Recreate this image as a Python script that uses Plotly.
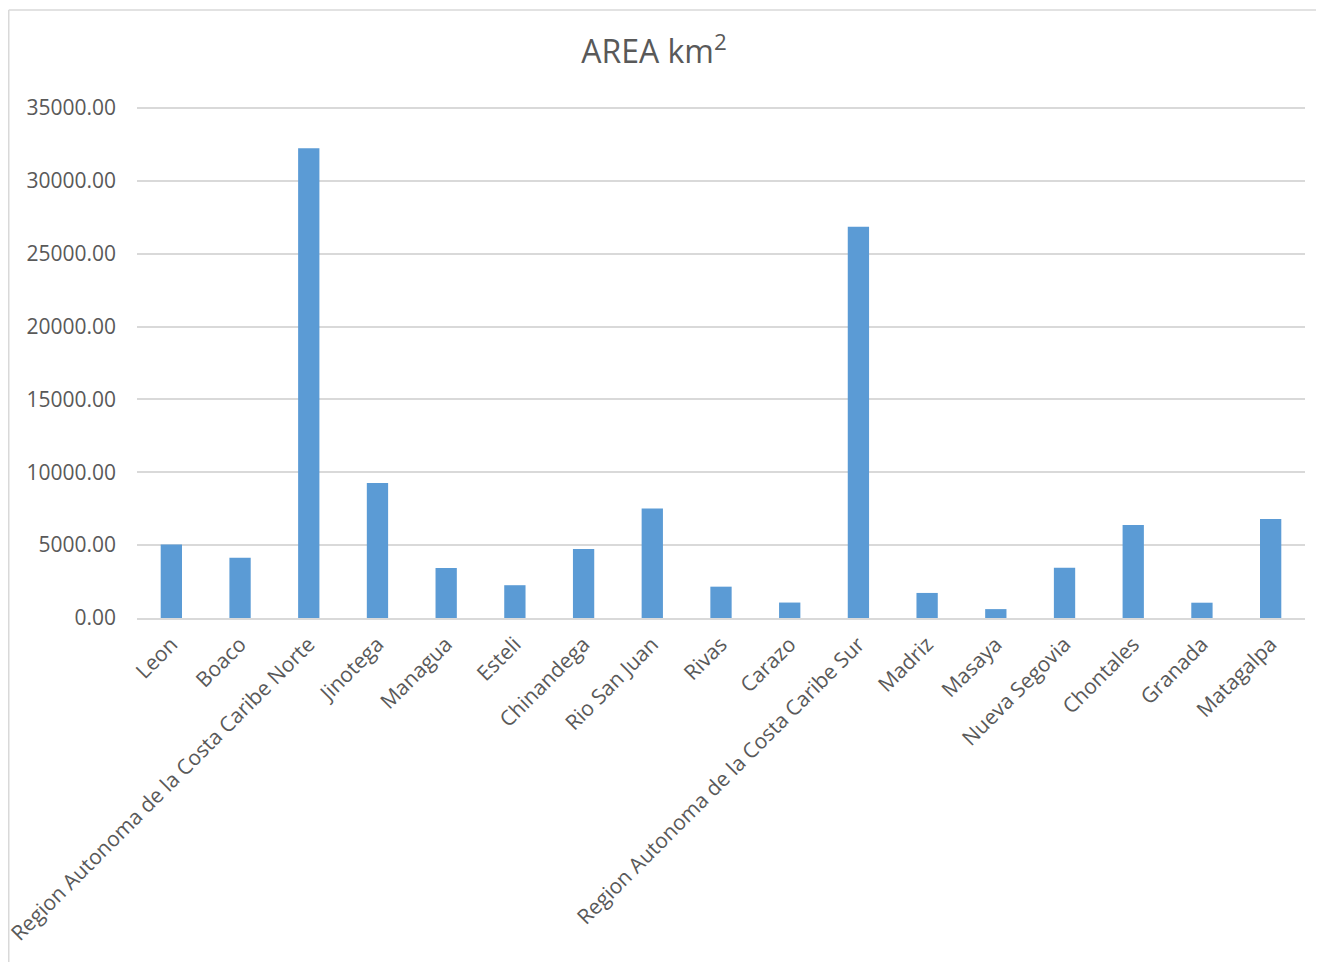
import plotly.graph_objects as go

categories = ["Leon", "Boaco", "Region Autonoma de la Costa Caribe Norte", "Jinotega",
              "Managua", "Esteli", "Chinandega", "Rio San Juan", "Rivas", "Carazo",
              "Region Autonoma de la Costa Caribe Sur", "Madriz", "Masaya",
              "Nueva Segovia", "Chontales", "Granada", "Matagalpa"]
area_km2 = [5040, 4130, 32230, 9270, 3430, 2250, 4730, 7520, 2150, 1060,
            26850, 1720, 610, 3440, 6380, 1050, 6800]
y_ticks = [0, 5000, 10000, 15000, 20000, 25000, 30000, 35000]

W, H = 1324, 962
OFF = 8  # page offset of the figure in the browser
# plot-area edges in screen pixels
L, R, T, B = 137 - OFF, 1305 - OFF, 103 - OFF, 618 - OFF
YMAX = 35000 * (B - T) / (B - (108 - OFF))

def px(x):
    return (x - L) / (R - L)

def py(y):
    return (B - y) / (B - T)

fig = go.Figure(go.Bar(x=categories, y=area_km2, marker_color="#5B9BD5",
                       marker_line_width=0))

font = "Open Sans, Noto Sans, sans-serif"
fig.update_layout(
    width=W, height=H,
    margin=dict(l=L, r=W - R, t=T, b=H - B, autoexpand=False),
    paper_bgcolor="white", plot_bgcolor="white",
    bargap=0.69,
    showlegend=False,
    title=dict(text="AREA km<sup>2</sup>", x=(654 - OFF) / W, xref="container", xanchor="center",
               y=1 - (52 - OFF) / H, yref="container", yanchor="middle",
               font=dict(family=font, size=32, color="#595959")),
    font=dict(family=font, size=21, color="#595959"),
    shapes=[
        dict(type="line", xref="paper", yref="paper", x0=px(0.75), x1=px(W + 5), y0=py(2), y1=py(2),
             line=dict(color="#D9D9D9", width=1.5)),
        dict(type="line", xref="paper", yref="paper", x0=px(0.75), x1=px(0.75), y0=py(2), y1=py(H + 5),
             line=dict(color="#D9D9D9", width=1.5)),
    ],
)
fig.update_yaxes(range=[0, YMAX], tickvals=y_ticks, tickformat=".2f", automargin=False,
                 showgrid=True, gridcolor="#D9D9D9", gridwidth=1.5, zeroline=False,
                 showline=False, ticklabelstandoff=20,
                 tickfont=dict(family=font, size=21, color="#595959"))
fig.update_xaxes(tickangle=-45, showline=True, linecolor="#D9D9D9", linewidth=1.5,
                 automargin=False,
                 showgrid=False, ticks="", ticklabelstandoff=4,
                 tickfont=dict(family=font, size=21, color="#595959"))

fig.write_html("out.html")
